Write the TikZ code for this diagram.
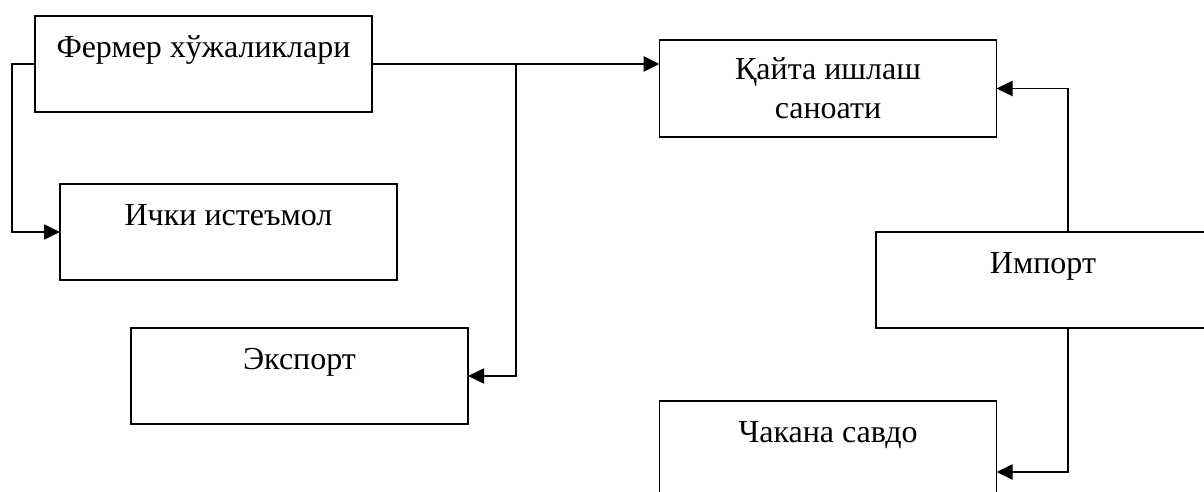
\documentclass[tikz,border=0pt]{standalone}
\usepackage{fontspec}
\setmainfont{Liberation Serif}
\usetikzlibrary{arrows.meta,calc}
\begin{document}
\begin{tikzpicture}[x=1pt,y=-1pt,
  box/.style={draw=black,line width=1.6pt,minimum width=337pt,minimum height=96pt,inner sep=0pt,outer sep=0pt},
  lbl/.style={anchor=base,inner sep=0pt,font=\fontsize{32}{38}\selectfont},
  conn/.style={line width=1.9pt,-{Triangle[length=16pt,width=15pt]}},
  mainconn/.style={line width=2.6pt,-{Triangle[length=16pt,width=15pt]}},
  plain/.style={line width=1.9pt}]
\clip (0,0) rectangle (1204,492);
\fill[white] (0,0) rectangle (1204,492);
% boxes
\node[box] (ferm) at (203.5,64) {};
\node[box,minimum height=97pt] (kayta) at (828,88.5) {};
\node[box] (ichki) at (228.5,232) {};
\node[box] (export) at (299.5,376) {};
\node[box] (import) at (1044.5,280) {};
\node[box] (chak) at (828,449) {};
% labels
\node[lbl] (tferm) at ($(ferm.north)+(0,42)$) {Фермер хўжаликлари};
\node[lbl] (tkayta1) at ($(kayta.north)+(0,40)$) {Қайта ишлаш};
\node[lbl] (tkayta2) at ($(kayta.north)+(0,78)$) {саноати};
\node[lbl] (tichki) at ($(ichki.north)+(0,41)$) {Ички истеъмол};
\node[lbl] (texport) at ($(export.north)+(0,41)$) {Экспорт};
\node[lbl] (timport) at ($(import.north)+(-1.5,41)$) {Импорт};
\node[lbl] (tchak) at ($(chak.north)+(0,41)$) {Чакана савдо};
% connectors
\coordinate (branch) at (516,64);
\coordinate (itop) at (1068,232);
\coordinate (ibot) at (1068,328);
\draw[mainconn] (ferm.east) -- (ferm.east -| kayta.west);
\draw[conn] (branch) |- (export.east);
\draw[conn] (ferm.west) -- ++(-23,0) |- (ichki.west);
\draw[conn] (itop) |- (kayta.east);
\draw[conn] (ibot) -- (1068,472) -- (chak.east |- 0,472);
\end{tikzpicture}
\end{document}
